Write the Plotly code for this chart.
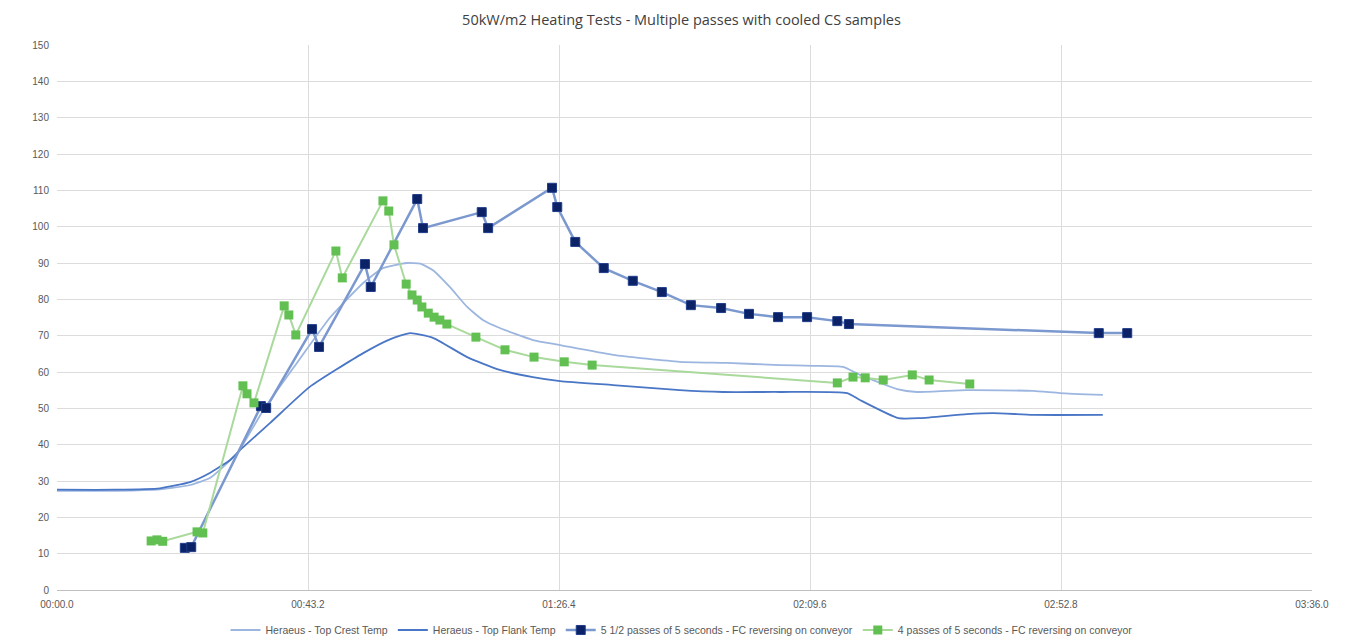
import plotly.graph_objects as go

# Time in seconds, temperatures in degC
crest_t = [0, 10, 17.7, 22.9, 26.3, 28.6, 31.2, 35.5, 41.3, 47.0, 52.7, 56.1, 60.2, 62.5, 64.7,
           67.6, 70.6, 73.3, 76.2, 81.9, 86.6, 95.7, 107.2, 115.3, 124.4, 130.1, 135.3, 138.2,
           144.6, 148.0, 156.6, 168.0, 172.6, 180.0]
crest_v = [27.3, 27.3, 27.7, 28.9, 30.8, 33.9, 38.0, 49.5, 62.5, 75.0, 84.5, 88.6, 90.0, 89.8, 88.0,
           83.4, 77.9, 74.3, 72.1, 68.8, 67.4, 64.7, 62.8, 62.5, 61.9, 61.7, 61.4, 59.2,
           55.3, 54.5, 55.0, 54.8, 54.2, 53.7]

flank_t = [0, 10, 17.7, 22.9, 26.3, 29.8, 31.5, 36.7, 43.5, 52.7, 57.3, 60.8, 64.7, 70.6, 76.2,
           81.9, 86.6, 95.7, 107.2, 114.6, 124.4, 136.0, 138.2, 144.8, 148.5, 156.6, 161.1, 168.0, 180.0]
flank_v = [27.6, 27.6, 28.0, 29.7, 32.2, 35.8, 38.5, 46.0, 55.9, 65.2, 69.0, 70.7, 69.4, 64.1, 60.6,
           58.6, 57.5, 56.4, 55.0, 54.5, 54.5, 54.2, 52.3, 47.3, 47.3, 48.4, 48.7, 48.2, 48.2]

pass55_t = [22.0, 23.1, 35.1, 36.0, 43.9, 45.1, 53.0, 54.0, 62.0, 63.0, 73.1, 74.2, 85.2, 86.1,
            89.2, 94.1, 99.1, 104.1, 109.1, 114.3, 119.1, 124.1, 129.1, 134.3, 136.3, 179.3, 184.2]
pass55_v = [11.6, 11.8, 50.6, 50.1, 71.8, 66.9, 89.7, 83.4, 107.6, 99.6, 104.0, 99.6, 110.7, 105.4,
            95.8, 88.6, 85.1, 82.0, 78.4, 77.6, 76.0, 75.1, 75.1, 74.0, 73.2, 70.7, 70.7]

pass4_t = [16.2, 17.2, 18.2, 24.1, 25.1, 32.0, 32.7, 33.9, 39.1, 39.9, 41.1, 48.0, 49.1, 56.1, 57.1,
           58.0, 60.1, 61.1, 62.0, 62.8, 63.9, 64.9, 65.9, 67.1, 72.1, 77.1, 82.1, 87.3, 92.1,
           134.3, 137.0, 139.1, 142.2, 147.2, 150.1, 157.1]
pass4_v = [13.5, 13.8, 13.4, 16.0, 15.7, 56.2, 54.0, 51.5, 78.2, 75.7, 70.2, 93.3, 85.9, 107.1, 104.3,
           95.0, 84.2, 81.2, 79.8, 77.9, 76.2, 75.1, 74.3, 73.2, 69.6, 66.1, 64.1, 62.8, 61.9,
           57.0, 58.6, 58.4, 57.8, 59.2, 57.8, 56.7]

x_tickvals = [0, 43.2, 86.4, 129.6, 172.8, 216.0]
x_ticktext = ["00:00.0", "00:43.2", "01:26.4", "02:09.6", "02:52.8", "03:36.0"]

fig = go.Figure()
fig.add_trace(go.Scatter(x=crest_t, y=crest_v, mode="lines", name="Heraeus - Top Crest Temp",
                         line=dict(color="#9CB6E0", width=1.8, shape="spline", smoothing=0.5)))
fig.add_trace(go.Scatter(x=flank_t, y=flank_v, mode="lines", name="Heraeus - Top Flank Temp",
                         line=dict(color="#4A76C6", width=1.8, shape="spline", smoothing=0.5)))
fig.add_trace(go.Scatter(x=pass55_t, y=pass55_v, mode="lines+markers",
                         name="5 1/2 passes of 5 seconds - FC reversing on conveyor",
                         line=dict(color="#7B98CF", width=2.5),
                         marker=dict(symbol="square", size=9, color="#0B2266",
                                     line=dict(color="#1F3C8A", width=1))))
fig.add_trace(go.Scatter(x=pass4_t, y=pass4_v, mode="lines+markers",
                         name="4 passes of 5 seconds - FC reversing on conveyor",
                         line=dict(color="#A9D99B", width=2),
                         marker=dict(symbol="square", size=9, color="#62C052",
                                     line=dict(color="#62C052", width=0))))

# page body has an 8px default margin; figure sized to fit the 1355x639 window
fig.update_layout(
    width=1347, height=631,
    margin=dict(l=49, r=43, t=37, b=49, autoexpand=False),
    paper_bgcolor="white", plot_bgcolor="white",
    font=dict(family="Liberation Sans, Arial, sans-serif", color="#595959", size=10),
    title=dict(text="50kW/m2 Heating Tests - Multiple passes with cooled CS samples",
               x=0.5, xanchor="center", xref="container", y=0.981, yanchor="middle", yref="container",
               font=dict(size=14.5, color="#404040", family="Open Sans, Liberation Sans, sans-serif")),
    showlegend=True,
    legend=dict(orientation="h", x=0.5, xanchor="center", xref="container",
                y=0.0143, yanchor="middle", yref="container",
                font=dict(size=10.5, color="#595959"), itemwidth=30, tracegroupgap=0,
                bgcolor="rgba(0,0,0,0)"),
    xaxis=dict(range=[0, 216], tickvals=x_tickvals, ticktext=x_ticktext, showgrid=True,
               gridcolor="#DCDCDC", gridwidth=1, zeroline=False, showline=True, automargin=False,
               linecolor="#BFBFBF", linewidth=1, ticks="", ticklabelstandoff=5,
               tickfont=dict(size=10, color="#595959")),
    yaxis=dict(range=[0, 150], dtick=10, showgrid=True, gridcolor="#DCDCDC", gridwidth=1,
               zeroline=False, showline=False, ticks="", automargin=False, ticklabelstandoff=7,
               tickfont=dict(size=10, color="#595959")),
)

fig.write_html("out.html")
